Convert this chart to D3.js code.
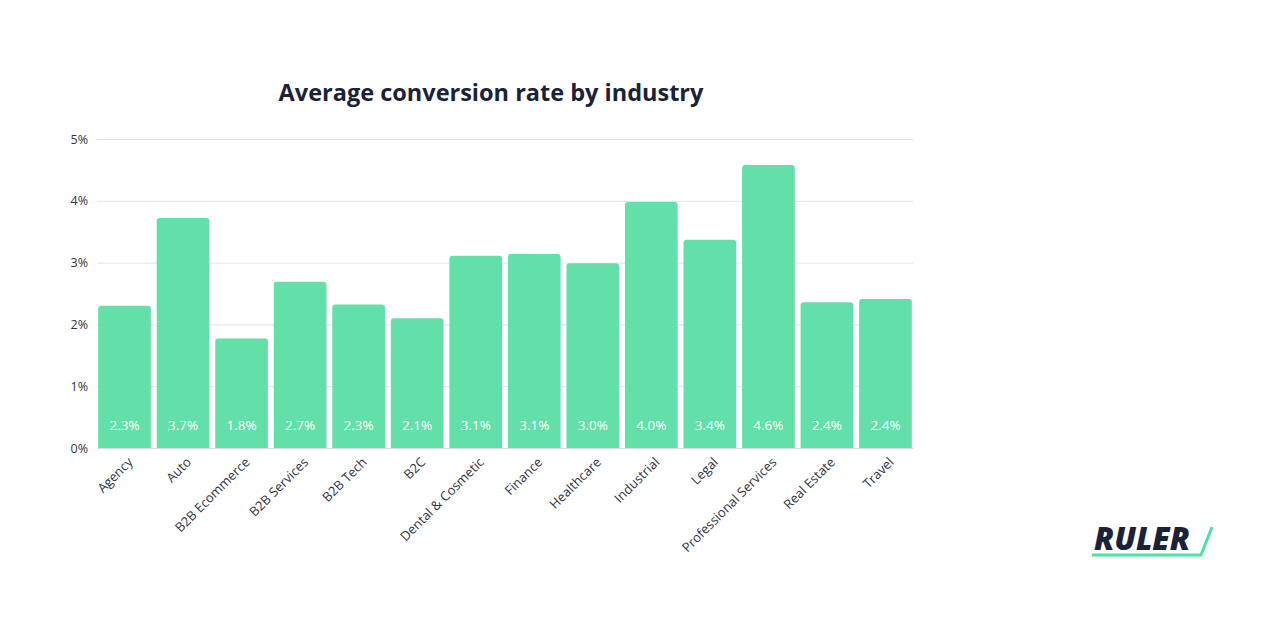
<!DOCTYPE html>
<html>
<head>
<meta charset="utf-8">
<script src="https://cdn.jsdelivr.net/npm/d3@7"></script>
<style>
  body { margin: 0; background: #fff; font-family: "Open Sans", sans-serif; }
  svg text { font-family: "Open Sans", sans-serif; }
</style>
</head>
<body>
<script>
// data
let industries = ["Agency", "Auto", "B2B Ecommerce", "B2B Services", "B2B Tech", "B2C",
    "Dental & Cosmetic", "Finance", "Healthcare", "Industrial", "Legal",
    "Professional Services", "Real Estate", "Travel"]
let rates = [2.3, 3.72, 1.77, 2.69, 2.32, 2.1, 3.11, 3.14, 2.99, 3.98, 3.37, 4.58, 2.36, 2.41]
let yTicks = [0, 1, 2, 3, 4, 5]

let w = 1280
let h = 640
let margin = {left: 97, right: 367, top: 139, bottom: 192}

let svg = d3.select("body").append("svg")
    .attr("width", w)
    .attr("height", h)

let x = d3.scaleBand()
    .domain(industries)
    .range([margin.left, w - margin.right])
    .paddingInner(0.1)
    .paddingOuter(0.02)

let y = d3.scaleLinear()
    .domain([0, 5])
    .range([h - margin.bottom, margin.top])

// title
svg.append("text")
    .attr("x", 491)
    .attr("y", 101)
    .attr("text-anchor", "middle")
    .attr("font-size", "23.5px")
    .attr("font-weight", "bold")
    .attr("fill", "#1b2238")
    .text("Average conversion rate by industry")

// grid + y labels
let yAxis = d3.axisLeft(y)
    .tickValues(yTicks)
    .tickFormat(d => d + "%")
    .tickSize(-(w - margin.left - margin.right))
    .tickPadding(9)

let gy = svg.append("g")
    .attr("transform", `translate(${margin.left},0)`)
    .call(yAxis)
gy.select(".domain").remove()
gy.selectAll(".tick line").attr("stroke", "#dfe4e7")
gy.selectAll(".tick text")
    .attr("fill", "#2f3444")
    .attr("font-size", "12.5px")

// bars, rounded on top only
let r = 3
svg.selectAll("path.bar")
    .data(industries)
    .enter()
    .append("path")
    .attr("class", "bar")
    .attr("fill", "#63e0a9")
    .attr("d", (d, i) => {
        let x0 = x(d), x1 = x(d) + x.bandwidth()
        let y0 = y(rates[i]), y1 = y(0)
        return `M${x0},${y1}V${y0 + r}Q${x0},${y0} ${x0 + r},${y0}H${x1 - r}Q${x1},${y0} ${x1},${y0 + r}V${y1}Z`
    })

// value labels
svg.selectAll("text.val")
    .data(industries)
    .enter()
    .append("text")
    .attr("class", "val")
    .attr("x", d => x(d) + x.bandwidth() / 2)
    .attr("y", y(0) - 18)
    .attr("text-anchor", "middle")
    .attr("fill", "#ffffff")
    .attr("font-size", "13.5px")
    .text((d, i) => rates[i].toFixed(1) + "%")

// x labels
let xAxis = d3.axisBottom(x).tickSize(0).tickPadding(0)
let gx = svg.append("g")
    .attr("transform", `translate(0,${y(0)})`)
    .call(xAxis)
gx.select(".domain").attr("stroke", "#d8dde0")
gx.selectAll(".tick text")
    .attr("fill", "#2f3444")
    .attr("font-size", "13px")
    .attr("text-anchor", "end")
    .attr("dy", null)
    .attr("transform", "translate(9,15) rotate(-45)")

// logo
let logo = svg.append("g").attr("transform", "translate(1092,527)")
logo.append("text")
    .attr("x", 2)
    .attr("y", 23)
    .attr("font-size", "31px")
    .attr("font-weight", "800")
    .attr("font-style", "italic")
    .attr("fill", "#1b2238")
    .text("RULER")
logo.append("path")
    .attr("d", "M0,28H109L120,0")
    .attr("fill", "none")
    .attr("stroke", "#4fe0a3")
    .attr("stroke-width", 3)
</script>
</body>
</html>
